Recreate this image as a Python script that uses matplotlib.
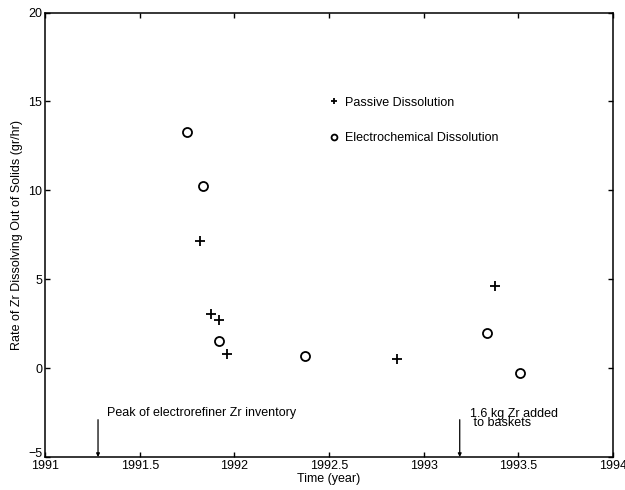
import matplotlib
matplotlib.use("Agg")
import matplotlib.pyplot as plt
import matplotlib.transforms as mtransforms

plt.rcParams["font.family"] = ["Liberation Sans", "DejaVu Sans"]

# passive dissolution (+)
passive_t = [1991.82, 1991.877, 1991.919, 1991.961, 1992.858, 1993.377]
passive_rate = [7.15, 3.04, 2.70, 0.80, 0.50, 4.63]

# electrochemical dissolution (o)
electro_t = [1991.752, 1991.833, 1991.919, 1992.374, 1993.333, 1993.506]
electro_rate = [13.26, 10.26, 1.54, 0.70, 1.96, -0.29]

# events marked with arrows on the time axis
event_t = [1991.28, 1993.19]
event_labels = ["Peak of electrorefiner Zr inventory", "1.6 kg Zr added\n to baskets"]

xticks = [1991, 1991.5, 1992, 1992.5, 1993, 1993.5, 1994]
xticklabels = ["1991", "1991.5", "1992", "1992.5", "1993", "1993.5", "1994"]
yticks = [-5, 0, 5, 10, 15, 20]

fig = plt.figure(figsize=(6.25, 4.9), dpi=100)
ax = fig.add_axes([0.072, 0.0673, 0.909, 0.907])

ax.plot(passive_t, passive_rate, linestyle="none", marker="+", color="k",
        markersize=7, markeredgewidth=1.3, label="Passive Dissolution")
ax.plot(electro_t, electro_rate, linestyle="none", marker="o", color="k",
        markerfacecolor="none", markersize=6.5, markeredgewidth=1.3,
        label="Electrochemical Dissolution")

ax.set_xlim(1991, 1994)
ax.set_ylim(-5, 20)
ax.set_xticks(xticks)
ax.set_xticklabels(xticklabels)
ax.set_yticks(yticks)
ax.tick_params(direction="in", length=3.5, width=1, top=True, right=True,
               labelsize=9, pad=2)
for s in ax.spines.values():
    s.set_linewidth(1.1)

# nudge the -5 label up a little so it doesn't sit on 1991
lbl = ax.get_yticklabels()[0]
lbl.set_transform(lbl.get_transform() + mtransforms.ScaledTranslation(0, 3.5 / 72, fig.dpi_scale_trans))

ax.set_xlabel("Time (year)", fontsize=9, labelpad=1)
ax.set_ylabel("Rate of Zr Dissolving Out of Solids (gr/hr)", fontsize=9, labelpad=4)

leg = ax.legend(loc="upper left", bbox_to_anchor=(0.49, 0.822), frameon=False,
                fontsize=9, markerscale=0.65, handlelength=0.9, handletextpad=0.45,
                labelspacing=1.9, borderaxespad=0)

# arrows and notes
for t, lab, dx in zip(event_t, event_labels, [0.05, 0.055]):
    ax.annotate("", xy=(t, -5), xytext=(t, -2.9),
                arrowprops=dict(arrowstyle="-|>", color="k", lw=0.9,
                                mutation_scale=5, shrinkA=0, shrinkB=0))
    ax.text(t + dx, -2.85, lab, fontsize=9, va="bottom" if "\n" not in lab else "center",
            linespacing=0.7)

fig.savefig("out.png", dpi=100)
